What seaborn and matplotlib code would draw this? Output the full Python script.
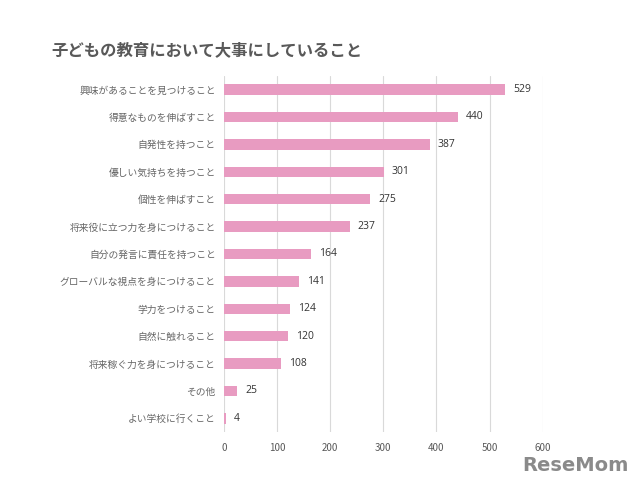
import matplotlib
matplotlib.use("Agg")
import matplotlib.pyplot as plt
import seaborn as sns
import pandas as pd

items = [
    "興味があることを見つけること",
    "得意なものを伸ばすこと",
    "自発性を持つこと",
    "優しい気持ちを持つこと",
    "個性を伸ばすこと",
    "将来役に立つ力を身につけること",
    "自分の発言に責任を持つこと",
    "グローバルな視点を身につけること",
    "学力をつけること",
    "自然に触れること",
    "将来稼ぐ力を身につけること",
    "その他",
    "よい学校に行くこと",
]
counts = [529, 440, 387, 301, 275, 237, 164, 141, 124, 120, 108, 25, 4]
x_ticks = [0, 100, 200, 300, 400, 500, 600]

df = pd.DataFrame({"item": items, "count": counts})

sns.set_style("white")
plt.rcParams["font.family"] = ["Noto Sans CJK JP", "DejaVu Sans"]

fig = plt.figure(figsize=(6.4, 4.8), dpi=100)
ax = fig.add_axes([0.35, 0.10, 0.498, 0.742])

sns.barplot(data=df, x="count", y="item", color="#E89BC1", width=0.38,
            saturation=1, linewidth=0, ax=ax)

for i, v in enumerate(counts):
    ax.text(v + 15, i, str(v), va="center", ha="left", fontsize=7.5,
            color="#333333", family=["Open Sans", "DejaVu Sans"])

ax.set_xlim(0, 600)
ax.set_xticks(x_ticks)
ax.set_xlabel("")
ax.set_ylabel("")
ax.xaxis.grid(True, color="#d9d9d9", linewidth=0.8)
ax.set_axisbelow(True)
for s in ax.spines.values():
    s.set_visible(False)
ax.tick_params(axis="x", labelsize=7, colors="#595959", length=0, pad=8)
ax.tick_params(axis="y", labelsize=7, colors="#666666", length=0, pad=6)

fig.text(0.081, 0.895, "子どもの教育において大事にしていること", fontsize=11.8,
         fontweight="bold", color="#595959", va="center", ha="left")
fig.text(0.982, 0.03, "ReseMom", fontsize=14, fontweight="bold",
         color="#8a8a8a", ha="right", va="center",
         family=["DejaVu Sans"])

fig.savefig("out.png", dpi=100)
